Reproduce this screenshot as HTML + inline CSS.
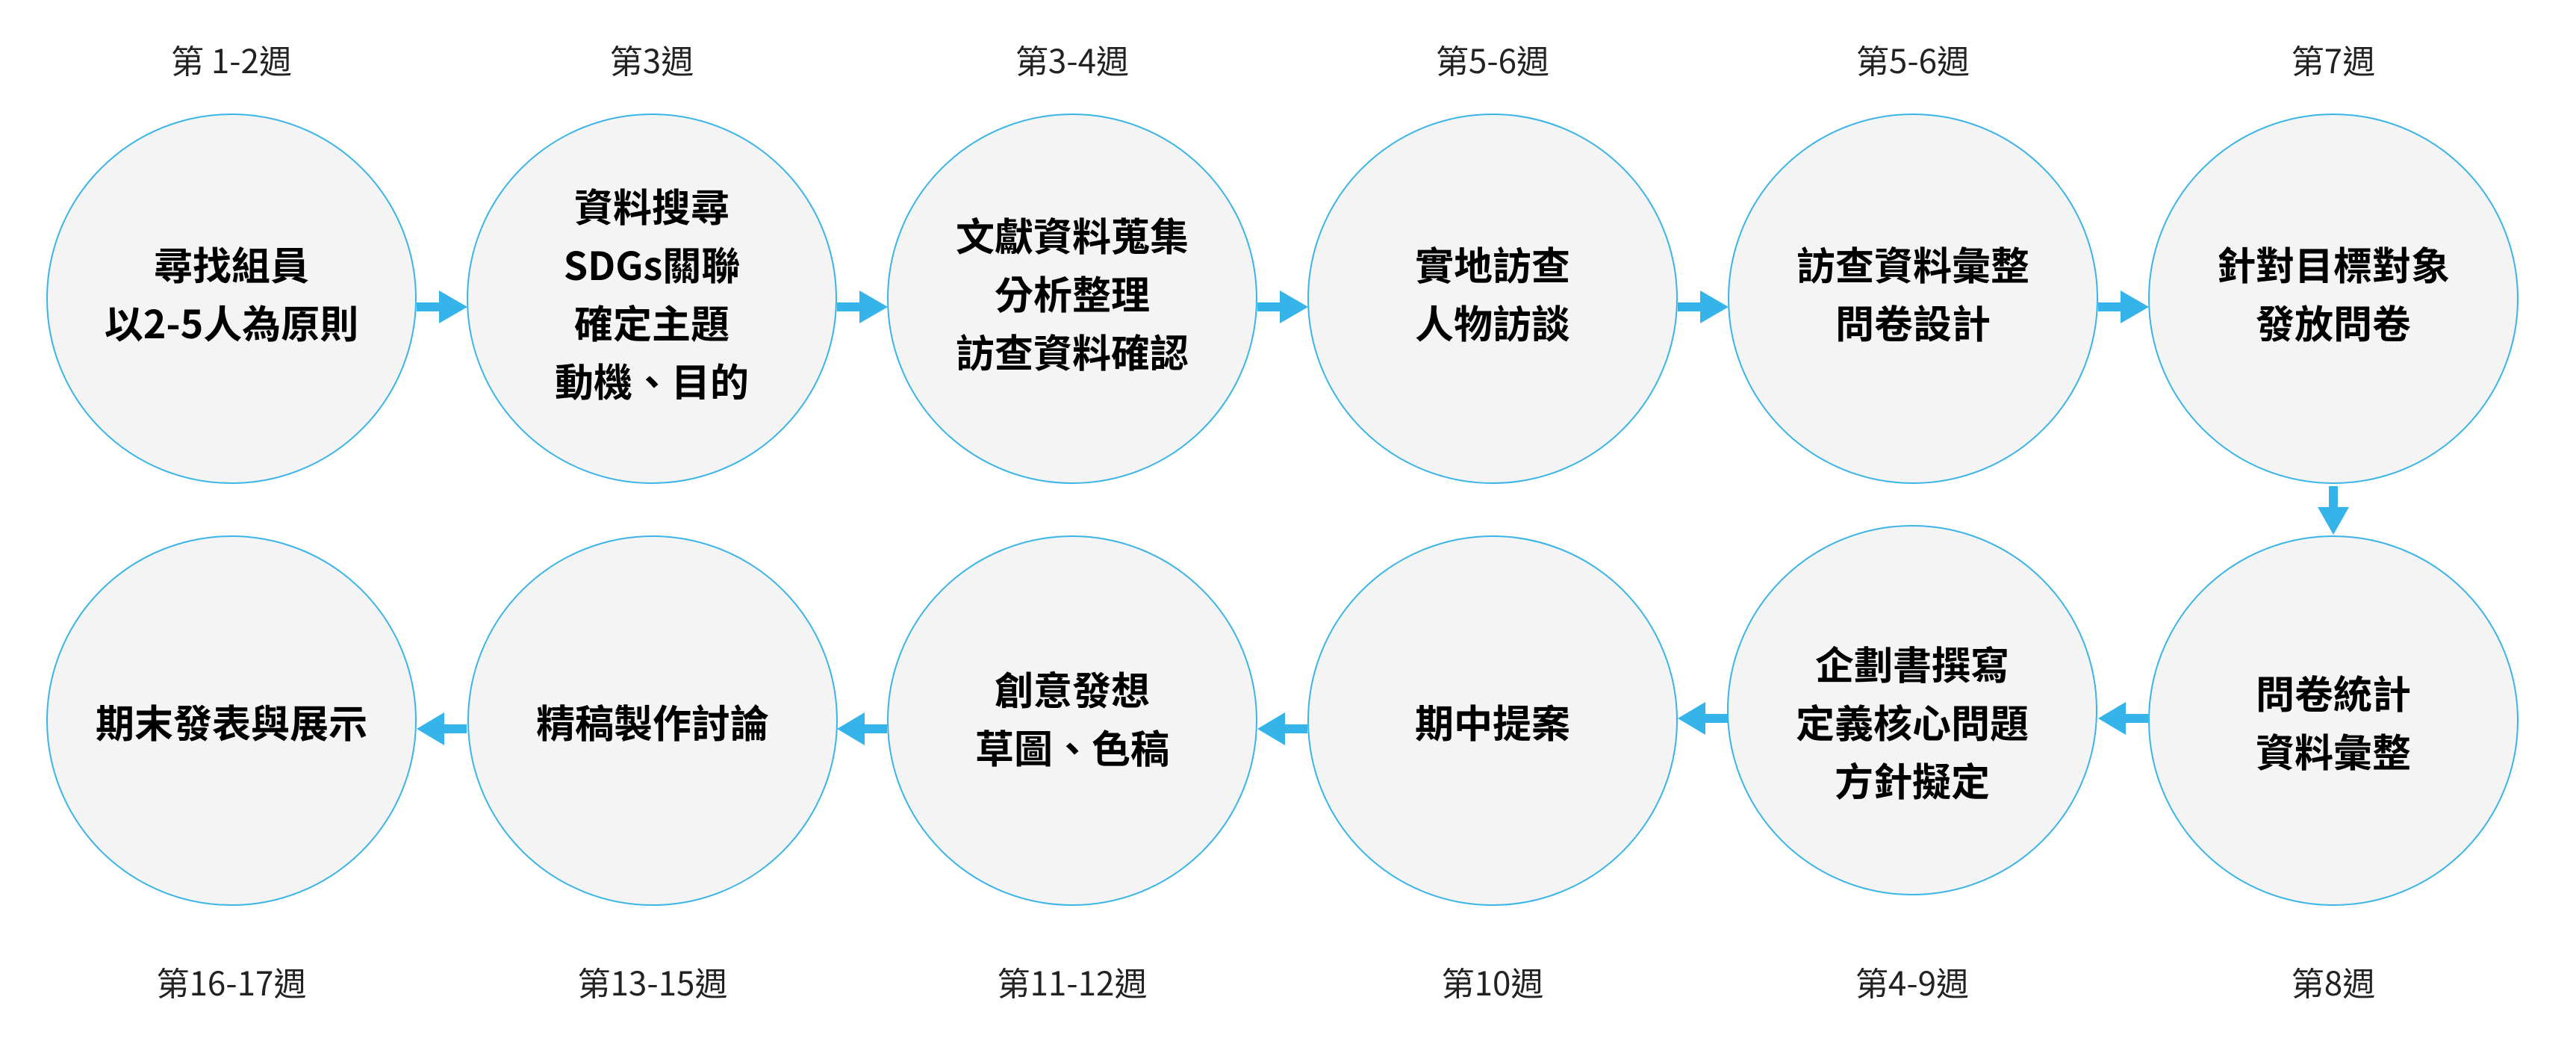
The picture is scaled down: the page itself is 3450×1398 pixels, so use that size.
<!DOCTYPE html>
<html><head><meta charset="utf-8"><style>
html,body{margin:0;padding:0;background:#fff;}
svg{display:block;}
text{font-family:"Noto Sans CJK TC","Liberation Sans",sans-serif;text-anchor:middle;}
.b{font-weight:700;font-size:52px;fill:#000;}
.l{font-weight:400;font-size:44px;fill:#222;}
</style></head><body>
<svg width="3450" height="1398" viewBox="0 0 3450 1398" xmlns="http://www.w3.org/2000/svg">
<g fill="#f4f4f4" stroke="#3bb4e8" stroke-width="2">
<circle cx="310" cy="400" r="247"/>
<circle cx="873" cy="400" r="247"/>
<circle cx="1436" cy="400" r="247"/>
<circle cx="1999" cy="400" r="247"/>
<circle cx="2562" cy="400" r="247"/>
<circle cx="3125" cy="400" r="247"/>
<circle cx="310" cy="965" r="247"/>
<circle cx="874" cy="965" r="247"/>
<circle cx="1436" cy="965" r="247"/>
<circle cx="1999" cy="965" r="247"/>
<circle cx="2561" cy="951" r="247"/>
<circle cx="3125" cy="965" r="247"/>
</g>
<g fill="#35b4ea">
<g id="ra"><rect x="558" y="405" width="32" height="12"/><polygon points="588,389 626,411 588,433"/></g>
<use href="#ra" x="563"/><use href="#ra" x="1126"/><use href="#ra" x="1689"/><use href="#ra" x="2252"/>
<rect x="3119" y="651" width="12" height="30"/><polygon points="3104,679 3146,679 3125,716"/>
<rect x="2845" y="956" width="32" height="12"/><polygon points="2847,940 2810,962 2847,984"/>
<rect x="2282" y="956" width="32" height="12"/><polygon points="2284,940 2247,962 2284,984"/>
<g id="la"><rect x="1719" y="970" width="32" height="12"/><polygon points="1721,954 1684,976 1721,998"/></g>
<use href="#la" x="-563"/><use href="#la" x="-1126"/>
</g>
<g class="l">
<text x="310" y="98">第 1-2週</text>
<text x="873" y="98">第3週</text>
<text x="1436" y="98">第3-4週</text>
<text x="1999" y="98">第5-6週</text>
<text x="2562" y="98">第5-6週</text>
<text x="3125" y="98">第7週</text>
<text x="310" y="1333">第16-17週</text>
<text x="874" y="1333">第13-15週</text>
<text x="1436" y="1333">第11-12週</text>
<text x="1999" y="1333">第10週</text>
<text x="2561" y="1333">第4-9週</text>
<text x="3125" y="1333">第8週</text>
</g>
<g class="b">
<text x="310" y="375">尋找組員</text>
<text x="310" y="453">以2-5人為原則</text>
<text x="873" y="297">資料搜尋</text>
<text x="873" y="375">SDGs關聯</text>
<text x="873" y="453">確定主題</text>
<text x="873" y="531">動機、目的</text>
<text x="1436" y="336">文獻資料蒐集</text>
<text x="1436" y="414">分析整理</text>
<text x="1436" y="492">訪查資料確認</text>
<text x="1999" y="375">實地訪查</text>
<text x="1999" y="453">人物訪談</text>
<text x="2562" y="375">訪查資料彙整</text>
<text x="2562" y="453">問卷設計</text>
<text x="3125" y="375">針對目標對象</text>
<text x="3125" y="453">發放問卷</text>
<text x="310" y="988">期末發表與展示</text>
<text x="874" y="988">精稿製作討論</text>
<text x="1436" y="944">創意發想</text>
<text x="1436" y="1022">草圖、色稿</text>
<text x="1999" y="988">期中提案</text>
<text x="2561" y="910">企劃書撰寫</text>
<text x="2561" y="988">定義核心問題</text>
<text x="2561" y="1066">方針擬定</text>
<text x="3125" y="949">問卷統計</text>
<text x="3125" y="1027">資料彙整</text>
</g>
</svg>
</body></html>
